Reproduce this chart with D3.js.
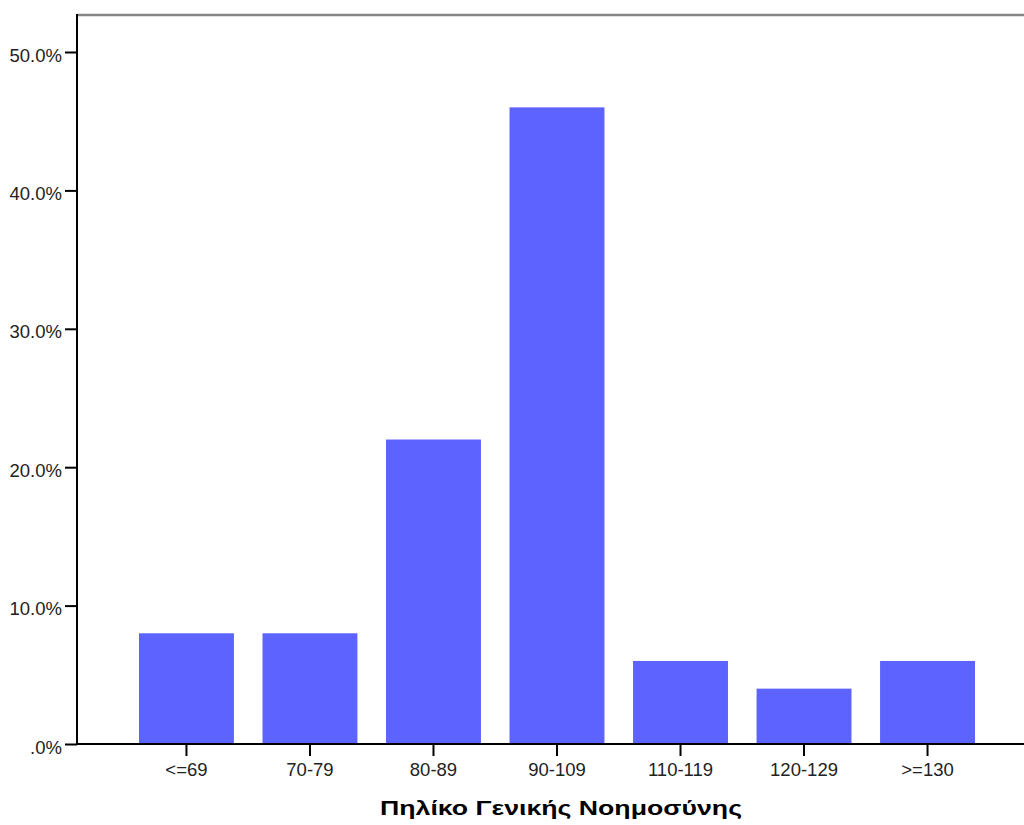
<!DOCTYPE html>
<html><head><meta charset="utf-8">
<script src="https://cdn.jsdelivr.net/npm/d3@7"></script>
<style>
html,body{margin:0;padding:0;background:#fff;}
svg{display:block;}
text{font-family:"Liberation Sans",Arial,sans-serif;}
</style></head>
<body>
<svg id="chart" width="1024" height="825"></svg>
<script>
const categories = ["<=69","70-79","80-89","90-109","110-119","120-129",">=130"];
const percents = [8.0, 8.0, 22.0, 46.0, 6.0, 4.0, 6.0];
const yTicks = [0, 10, 20, 30, 40, 50];
const xTitle = "Πηλίκο Γενικής Νοημοσύνης";

const svg = d3.select("#chart");
const axisX = 77, axisY = 744, frameTop = 15, rightEdge = 1024;

const y = d3.scaleLinear().domain([0, 50]).range([axisY, 52]);
const x = d3.scaleBand().domain(categories).range([139, 975]).paddingInner(0.2314).paddingOuter(0);

// bars
svg.append("g").selectAll("rect").data(percents).join("rect")
  .attr("x", (d,i) => x(categories[i]))
  .attr("y", d => y(d))
  .attr("width", x.bandwidth())
  .attr("height", d => y(0) - y(d))
  .attr("fill", "#5c63ff");

// top frame line
svg.append("line").attr("x1", axisX).attr("x2", rightEdge).attr("y1", frameTop).attr("y2", frameTop)
  .attr("stroke", "#858585").attr("stroke-width", 2.5);

// y axis
const yFmt = d => d === 0 ? ".0%" : d3.format(".1f")(d) + "%";
const yAxis = d3.axisLeft(y).tickValues(yTicks).tickSize(12).tickPadding(3).tickFormat(yFmt);
const gy = svg.append("g").attr("transform", `translate(${axisX},0)`).call(yAxis);
gy.select(".domain").remove();
gy.selectAll(".tick line").attr("stroke", "#000").attr("stroke-width", 2);
gy.selectAll(".tick text").attr("font-size", "18.5px").attr("fill", "#222")
  .attr("font-family", "Liberation Sans, Arial, sans-serif").attr("dy", "9");
svg.append("line").attr("x1", axisX).attr("x2", axisX).attr("y1", frameTop - 1).attr("y2", axisY + 1)
  .attr("stroke", "#000").attr("stroke-width", 2);

// x axis
const xAxis = d3.axisBottom(x).tickSize(12).tickPadding(0);
const gx = svg.append("g").attr("transform", `translate(0,${axisY})`).call(xAxis);
gx.select(".domain").remove();
gx.selectAll(".tick line").attr("stroke", "#000").attr("stroke-width", 2);
gx.selectAll(".tick text").attr("font-size", "18.5px").attr("fill", "#222")
  .attr("font-family", "Liberation Sans, Arial, sans-serif")
  .attr("y", 32).attr("dy", "0");
svg.append("line").attr("x1", axisX).attr("x2", rightEdge).attr("y1", axisY).attr("y2", axisY)
  .attr("stroke", "#000").attr("stroke-width", 2);

// x title (horizontally stretched like the reference)
const title = svg.append("text").attr("text-anchor", "middle")
  .attr("font-size", "21px").attr("font-weight", "bold").attr("fill", "#000")
  .text(xTitle);
const tw = title.node().getComputedTextLength();
title.attr("transform", `translate(561,815) scale(${362 / tw},1)`);
</script>
</body></html>
